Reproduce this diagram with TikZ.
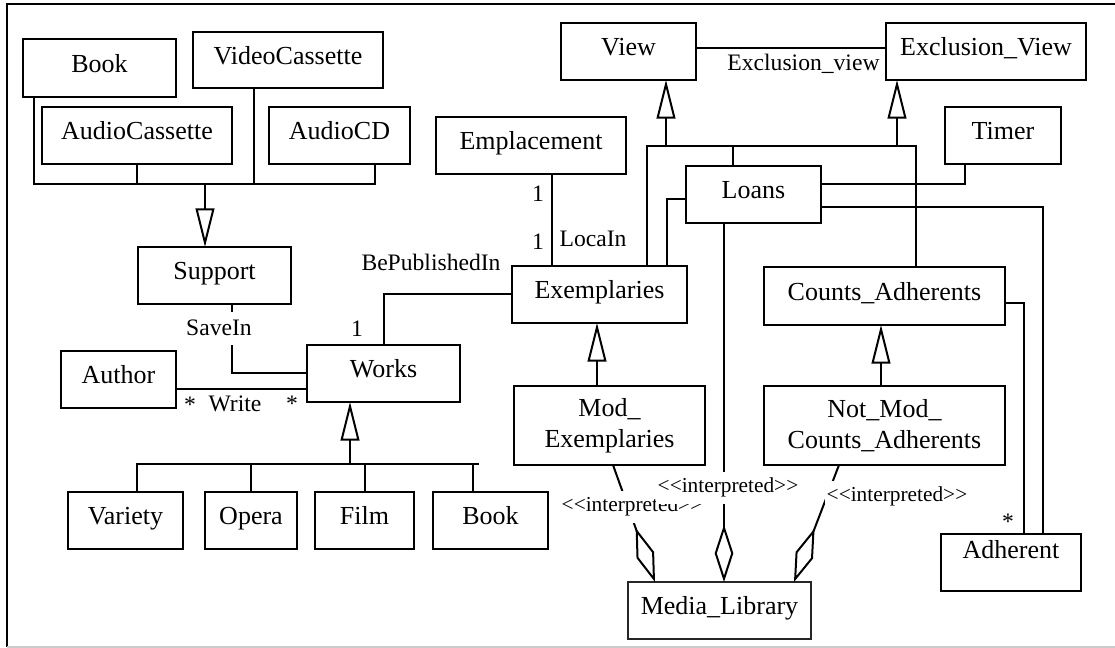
\documentclass[tikz,border=0pt]{standalone}
\usepackage{fontspec}
\setmainfont{Liberation Serif}
\usetikzlibrary{arrows.meta,calc}
\newcommand\interp{<\kern0pt<interpreted>\kern0pt>}
\begin{document}
\begin{tikzpicture}[x=0.75pt, y=-0.75pt,
  cls/.style={draw, line width=1.5pt, inner sep=0pt, outer sep=0pt,
    font=\fontsize{19.5}{23.25}\selectfont, text height=13.65pt, text depth=7pt},
  cls2/.style={cls, align=center, text height=, text depth=},
  sz/.style 2 args={minimum width=#1*0.75pt, minimum height=#2*0.75pt},
  ln/.style={line width=1.5pt},
  gen/.style={ln, -{Triangle[open, length=29pt, width=14pt]}},
  agg/.style={ln, -{Diamond[open, length=43pt, width=14pt]}},
  lab/.style={font=\fontsize{17.7}{20}\selectfont, inner sep=0pt},
  labw/.style={lab, fill=white, inner xsep=2pt, inner ysep=6.5pt},
  st/.style={font=\fontsize{16}{18}\selectfont, fill=white, inner xsep=1pt, inner ysep=5pt}
]
\useasboundingbox (0,0) rectangle (1115,648);
% frame
\draw[ln] (1115,4) -- (7,4) -- (7,647);
\draw[black!20, line width=0.8pt] (7,647) -- (1115,647);

% classes
\node[cls, sz={153}{58}] (book1) at (99.5,68) {Book};
\node[cls, sz={190}{56}] (video) at (288,60) {VideoCassette};
\node[cls, sz={190}{57}] (acass) at (137,135.5) {AudioCassette};
\node[cls, sz={141}{57}] (acd) at (339.5,135.5) {AudioCD};
\node[cls, sz={153}{57}] (support) at (214.5,275.5) {Support};
\node[cls, sz={115}{57}] (author) at (118.5,379.5) {Author};
\node[cls, sz={153}{57}] (works) at (383.5,373.5) {Works};
\node[cls, sz={115}{57}] (variety) at (125.5,520.5) {Variety};
\node[cls, sz={92}{57}] (opera) at (251,520.5) {Opera};
\node[cls, sz={99}{57}] (film) at (364.5,520.5) {Film};
\node[cls, sz={115}{57}] (book2) at (490.5,520.5) {Book};
\node[cls, sz={190}{57}] (emplacement) at (531,145.5) {Emplacement};
\node[cls, sz={175}{57}] (exemplaries) at (599.5,294.5) {Exemplaries};
\node[cls, sz={135}{57}] (view) at (628.5,51.5) {View};
\node[cls, sz={200}{57}] (exview) at (986,51.5) {Exclusion\_View};
\node[cls, sz={116}{57}] (timer) at (1003,135.5) {Timer};
\node[cls, sz={135}{57}] (loans) at (753.5,194.5) {Loans};
\node[cls, sz={241}{58}] (counts) at (884.5,296) {Counts\_Adherents};
\node[cls2, sz={191}{79}] (modex) at (609.5,425.5) {Mod\_\\Exemplaries};
\node[cls2, sz={241}{79}] (notmod) at (884.5,425.5) {Not\_Mod\_\\Counts\_Adherents};
\node[cls, sz={140}{57}] (adherent) at (1011,562.5) {};
\node[font=\fontsize{19.5}{23.25}\selectfont, inner sep=0pt, anchor=base] (adhtext) at ($(adherent.north)+(0,25)$) {Adherent};
\node[cls, sz={183}{57}, line width=0.9pt, draw=black!85] (media) at (719.5,610.5) {Media\_Library};

% Support generalization
\coordinate (sb) at (205,184);
\draw[ln] ($(book1.south west)+(11,0)$) |- ($(acd.south west)+(106,20)$) -- ($(acd.south west)+(106,0)$);
\draw[ln] (acass.south) -- ++(0,20);
\draw[ln] ($(video.south west)+(61,0)$) -- ++(0,96);
\draw[gen] (sb) -- (sb |- support.north);

% Works generalization
\coordinate (wb) at (350,464);
\draw[ln] ($(variety.north west)+(69,0)$) |- ($(book2.north west)+(46,-28)$);
\draw[ln] (opera.north) -- ++(0,-28);
\draw[ln] (film.north) -- ++(0,-28);
\draw[ln] ($(book2.north west)+(40,0)$) -- ++(0,-28);
\draw[gen] (wb) -- (wb |- works.south);

% SaveIn
\draw[ln] ($(support.south west)+(94,0)$) |- (works.west);
\node[labw, anchor=base] (savein) at (219,336) {SaveIn};

% Write
\draw[ln] (author.east) ++(0,9.5) coordinate (w1) -- (w1 -| works.west);
\node[lab, anchor=base] (wm1) at (190,413) {*};
\node[lab, anchor=base] (wlab) at (235,412) {Write};
\node[lab, anchor=base] (wm2) at (292,412) {*};

% BePublishedIn
\draw[ln] (works.north) |- (exemplaries.west);
\node[lab, anchor=base] (bepub) at (431,271) {BePublishedIn};
\node[lab, anchor=base] (bp1) at (357,337) {1};

% LocaIn
\draw[ln] ($(emplacement.south west)+(116,0)$) coordinate (l1) -- (l1 |- exemplaries.north);
\node[lab, anchor=base] (lm1) at (538,202) {1};
\node[lab, anchor=base] (lm2) at (538,250) {1};
\node[lab, anchor=base] (locain) at (593,247) {LocaIn};

% View / Exclusion_View generalization
\draw[ln] ($(exemplaries.north west)+(135,0)$) |- ($(counts.north west)+(152,-121)$) -- ($(counts.north west)+(152,0)$);
\draw[gen] ($(view.south west)+(105,66)$) -- ($(view.south west)+(105,0)$);
\draw[gen] ($(exview.south west)+(11,66)$) -- ($(exview.south west)+(11,0)$);
\draw[ln] ($(loans.north west)+(47,0)$) -- ++(0,-20);

% Exclusion_view association
\draw[ln] ($(view.east)+(0,-3)$) coordinate (ve) -- (ve -| exview.west);
\node[lab, anchor=base] (exlab) at (803.5,71) {Exclusion\_view};

% Loans associations
\draw[ln] ($(exemplaries.north west)+(155,0)$) |- ($(loans.west)+(0,5)$);
\draw[ln] ($(loans.east)+(0,-10.5)$) -| ($(timer.south west)+(20,0)$);
\draw[ln] ($(loans.east)+(0,12.5)$) -| ($(adherent.north west)+(102,0)$);
\draw[ln] ($(counts.east)+(0,7)$) -| ($(adherent.north west)+(83,0)$);
\node[lab, anchor=base] (am) at (1008,530) {*};

% generalizations
\draw[gen] ($(modex.north west)+(83,0)$) -- ($(exemplaries.south west)+(85,0)$);
\draw[gen] ($(notmod.north west)+(117,0)$) -- ($(counts.south west)+(117,0)$);

% aggregations
\draw[agg] ($(modex.south west)+(99,0)$) -- ($(media.north west)+(27,0)$);
\draw[agg] ($(loans.south west)+(38,0)$) -- ($(media.north west)+(96,0)$);
\draw[agg] ($(notmod.south west)+(75,0)$) -- ($(media.north west)+(166,0)$);
\node[st, anchor=base] (i1) at (632,512) {\interp};
\node[st, anchor=base] (i2) at (728,493) {\interp};
\node[st, anchor=base] (i3) at (897,502) {\interp};
\end{tikzpicture}
\end{document}
